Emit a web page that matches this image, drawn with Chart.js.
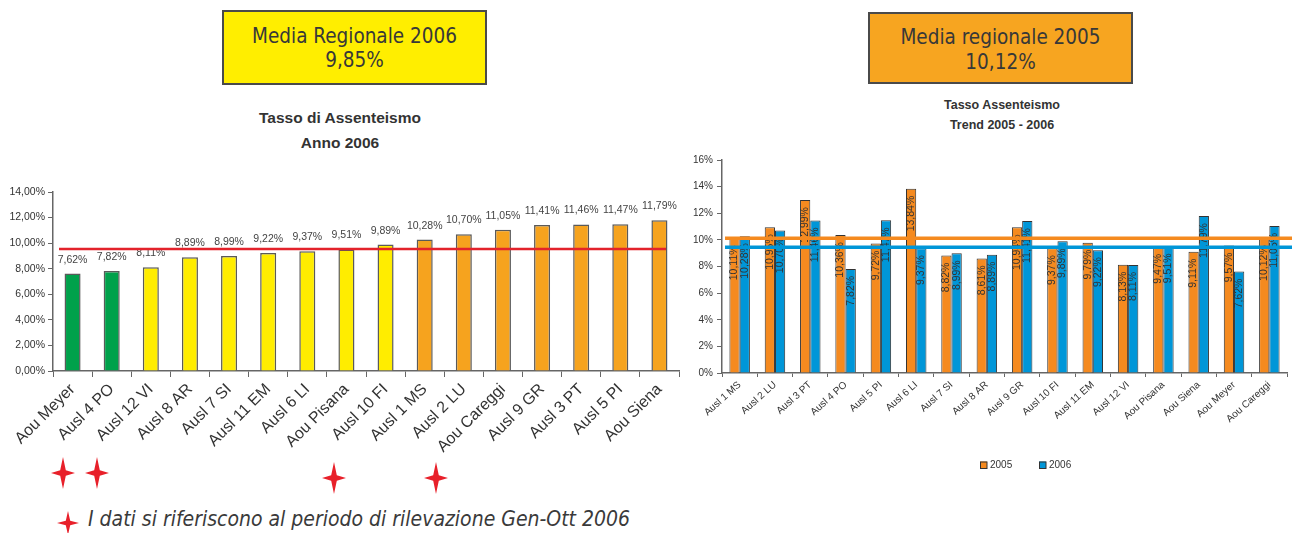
<!DOCTYPE html>
<html>
<head>
<meta charset="utf-8">
<script src="https://cdn.jsdelivr.net/npm/chart.js@4.4.1/dist/chart.umd.min.js"></script>
<style>
  html, body { margin: 0; padding: 0; background: #fff; }
  body { width: 1292px; height: 533px; position: relative; overflow: hidden;
         font-family: "Liberation Sans", Arial, sans-serif; color: #333; }
  .box { position: absolute; box-sizing: border-box; border: 2px solid #4a4a4a; text-align: center;
         font-family: "DejaVu Sans Condensed", "DejaVu Sans", sans-serif; font-stretch: condensed;
         font-size: 20.5px; color: #383838; }
  .titolo { position: absolute; text-align: center; font-weight: bold; color: #333;
            font-family: "Liberation Sans", Arial, sans-serif; }
  canvas { position: absolute; }
  .stella { position: absolute; }
  .nota { position: absolute; left: 88px; top: 507px; font-family: "DejaVu Sans Condensed", "DejaVu Sans", sans-serif;
          font-stretch: condensed; font-style: italic; font-size: 21px; color: #3a3a3a; white-space: nowrap; }
</style>
</head>
<body>

<div class="box" style="left:222px; top:10px; width:265px; height:75px; background:#FFEE00; line-height:24px; padding-top:12px;">
  Media Regionale 2006<br>9,85%
</div>
<div class="titolo" style="left:240px; top:105px; width:200px; font-size:15.5px; line-height:25px;">
  Tasso di Assenteismo<br>Anno 2006
</div>

<div class="box" style="left:868px; top:12px; width:265px; height:72px; background:#F7A520; line-height:25px; padding-top:11px;">
  Media regionale 2005<br>10,12%
</div>
<div class="titolo" style="left:902px; top:95px; width:200px; font-size:12.5px; line-height:20px;">
  Tasso Assenteismo<br>Trend 2005 - 2006
</div>

<canvas id="annuale" width="690" height="300" style="left:0; top:170px;"></canvas>
<canvas id="trend" width="602" height="335" style="left:690px; top:150px;"></canvas>

<!-- aziende con dati riferiti a Gen-Ott 2006 -->
<svg class="stella" style="left:50px; top:456px;" width="26" height="34" viewBox="-13 -17 26 34"><path d="M0,-16 L2.8,-2.8 L12,0 L2.8,2.8 L0,16 L-2.8,2.8 L-12,0 L-2.8,-2.8 Z" fill="#E8202A"/></svg>
<svg class="stella" style="left:84px; top:456px;" width="26" height="34" viewBox="-13 -17 26 34"><path d="M0,-16 L2.8,-2.8 L12,0 L2.8,2.8 L0,16 L-2.8,2.8 L-12,0 L-2.8,-2.8 Z" fill="#E8202A"/></svg>
<svg class="stella" style="left:321px; top:461px;" width="26" height="34" viewBox="-13 -17 26 34"><path d="M0,-16 L2.8,-2.8 L12,0 L2.8,2.8 L0,16 L-2.8,2.8 L-12,0 L-2.8,-2.8 Z" fill="#E8202A"/></svg>
<svg class="stella" style="left:423px; top:461px;" width="26" height="34" viewBox="-13 -17 26 34"><path d="M0,-16 L2.8,-2.8 L12,0 L2.8,2.8 L0,16 L-2.8,2.8 L-12,0 L-2.8,-2.8 Z" fill="#E8202A"/></svg>

<svg class="stella" style="left:56px; top:510px;" width="24" height="26" viewBox="-12 -13 24 26"><path d="M0,-12 L2.2,-2.2 L11,0 L2.2,2.2 L0,12 L-2.2,2.2 L-11,0 L-2.2,-2.2 Z" fill="#E8202A"/></svg>
<div class="nota">I dati si riferiscono al periodo di rilevazione Gen-Ott 2006</div>

<script>
// Tasso di assenteismo 2006, aziende ordinate per valore crescente
const aziendeAnno = ['Aou Meyer', 'Ausl 4 PO', 'Ausl 12 VI', 'Ausl 8 AR', 'Ausl 7 SI', 'Ausl 11 EM', 'Ausl 6 LI',
  'Aou Pisana', 'Ausl 10 FI', 'Ausl 1 MS', 'Ausl 2 LU', 'Aou Careggi', 'Ausl 9 GR', 'Ausl 3 PT', 'Ausl 5 PI', 'Aou Siena'];
const tasso2006 = [7.62, 7.82, 8.11, 8.89, 8.99, 9.22, 9.37, 9.51, 9.89, 10.28, 10.70, 11.05, 11.41, 11.46, 11.47, 11.79];
const fasciaAnno = ['verde', 'verde', 'giallo', 'giallo', 'giallo', 'giallo', 'giallo', 'giallo', 'giallo',
  'arancio', 'arancio', 'arancio', 'arancio', 'arancio', 'arancio', 'arancio'];
const mediaLinea2006 = [9.55];
const tickAnno = [0, 2, 4, 6, 8, 10, 12, 14];

// Confronto 2005 - 2006 per azienda
const aziendeTrend = ['Ausl 1 MS', 'Ausl 2 LU', 'Ausl 3 PT', 'Ausl 4 PO', 'Ausl 5 PI', 'Ausl 6 LI', 'Ausl 7 SI', 'Ausl 8 AR',
  'Ausl 9 GR', 'Ausl 10 FI', 'Ausl 11 EM', 'Ausl 12 VI', 'Aou Pisana', 'Aou Siena', 'Aou Meyer', 'Aou Careggi'];
const trend2005 = [10.11, 10.95, 12.99, 10.36, 9.72, 13.84, 8.82, 8.61, 10.94, 9.37, 9.79, 8.13, 9.47, 9.11, 9.57, 10.12];
const trend2006 = [10.28, 10.70, 11.46, 7.82, 11.47, 9.37, 8.99, 8.89, 11.41, 9.89, 9.22, 8.11, 9.51, 11.79, 7.62, 11.05];
const serieTrend = ['2005', '2006'];
const medieTrend = [10.12, 9.45];
const tickTrend = [0, 2, 4, 6, 8, 10, 12, 14, 16];

const coloriFascia = { verde: '#00A14B', giallo: '#FFED00', arancio: '#F6A31E' };
const coloriTrend = ['#F58A1F', '#0096D8'];

const virgola = (v, d) => v.toFixed(d).replace('.', ',');
const FONT = '"Liberation Sans", Arial, sans-serif';

// etichette sopra le barre + linea della media
const pluginAnno = {
  id: 'pluginAnno',
  afterDatasetsDraw(chart) {
    const ctx = chart.ctx;
    const meta = chart.getDatasetMeta(0);
    ctx.save();
    ctx.font = '10.5px ' + FONT;
    ctx.fillStyle = '#444';
    ctx.textAlign = 'center';
    ctx.textBaseline = 'alphabetic';
    meta.data.forEach((bar, i) => {
      ctx.fillText(virgola(tasso2006[i], 2) + '%', bar.x, bar.y - 11);
    });
    ctx.restore();
  },
  afterDraw(chart) {
    const ctx = chart.ctx, a = chart.chartArea;
    const y = chart.scales.y.getPixelForValue(mediaLinea2006[0]);
    ctx.save();
    ctx.strokeStyle = '#E3222B';
    ctx.lineWidth = 2.5;
    ctx.beginPath();
    ctx.moveTo(a.left + 6, y);
    ctx.lineTo(a.right - 13, y);
    ctx.stroke();
    ctx.restore();
  }
};

new Chart(document.getElementById('annuale'), {
  type: 'bar',
  data: {
    labels: aziendeAnno,
    datasets: [{
      data: tasso2006,
      backgroundColor: fasciaAnno.map(f => coloriFascia[f]),
      borderColor: '#5a5a5a',
      borderWidth: 1.5,
      barPercentage: 0.41,
      categoryPercentage: 1
    }]
  },
  options: {
    responsive: false,
    animation: false,
    devicePixelRatio: 1,
    layout: { padding: { top: 22, right: 11, left: 0, bottom: 0 } },
    plugins: { legend: { display: false }, tooltip: { enabled: false } },
    scales: {
      x: {
        grid: { display: true, drawOnChartArea: false, offset: true, tickLength: 6, color: '#666', lineWidth: 1 },
        border: { color: '#666', width: 1.5 },
        ticks: { minRotation: 45, maxRotation: 45, autoSkip: false, padding: 3, color: '#333',
                 font: { family: FONT, size: 16 } },
        afterFit(s) { s.height = 99; }
      },
      y: {
        min: 0, max: 14,
        afterBuildTicks(s) { s.ticks = tickAnno.map(v => ({ value: v })); },
        grid: { display: true, drawOnChartArea: false, tickLength: 5, color: '#666' },
        border: { color: '#666', width: 1.5 },
        ticks: { padding: 3, color: '#333', font: { family: FONT, size: 10.5 },
                 callback: v => virgola(v, 2) + '%' },
        afterFit(s) { s.width = 53; }
      }
    }
  },
  plugins: [pluginAnno]
});

// etichette verticali dentro le barre, linee delle medie, legenda
const pluginTrend = {
  id: 'pluginTrend',
  afterDatasetsDraw(chart) {
    const ctx = chart.ctx;
    ctx.save();
    ctx.font = '10.5px ' + FONT;
    ctx.fillStyle = '#333';
    ctx.textAlign = 'right';
    ctx.textBaseline = 'middle';
    chart.data.datasets.forEach((ds, i) => {
      chart.getDatasetMeta(i).data.forEach((bar, j) => {
        ctx.save();
        ctx.translate(bar.x, bar.y + 7);
        ctx.rotate(-Math.PI / 2);
        ctx.fillText(virgola(ds.data[j], 2) + '%', 0, 0);
        ctx.restore();
      });
    });
    ctx.restore();
  },
  afterDraw(chart) {
    const ctx = chart.ctx, a = chart.chartArea;
    ctx.save();
    medieTrend.forEach((m, i) => {
      const y = chart.scales.y.getPixelForValue(m);
      ctx.strokeStyle = coloriTrend[i];
      ctx.lineWidth = 3.5;
      ctx.beginPath();
      ctx.moveTo(a.left + 3, y);
      ctx.lineTo(chart.width, y);
      ctx.stroke();
    });
    // legenda
    ctx.font = '10px ' + FONT;
    ctx.textAlign = 'left';
    ctx.textBaseline = 'middle';
    const ly = 315;
    chart.data.datasets.forEach((ds, i) => {
      const lx = 290 + i * 59;
      ctx.fillStyle = ds.backgroundColor;
      ctx.fillRect(lx, ly - 3.5, 7, 7);
      ctx.strokeStyle = '#333';
      ctx.lineWidth = 1;
      ctx.strokeRect(lx + 0.5, ly - 3, 6.5, 6.5);
      ctx.fillStyle = '#333';
      ctx.fillText(ds.label, lx + 10, ly + 0.5);
    });
    ctx.restore();
  }
};

new Chart(document.getElementById('trend'), {
  type: 'bar',
  data: {
    labels: aziendeTrend,
    datasets: [
      { label: serieTrend[0], data: trend2005, backgroundColor: coloriTrend[0], borderColor: '#333', borderWidth: 1 },
      { label: serieTrend[1], data: trend2006, backgroundColor: coloriTrend[1], borderColor: '#333', borderWidth: 1 }
    ]
  },
  options: {
    responsive: false,
    animation: false,
    devicePixelRatio: 1,
    datasets: { bar: { categoryPercentage: 0.58, barPercentage: 1 } },
    layout: { padding: { top: 10, right: 5, left: 0, bottom: 0 } },
    plugins: { legend: { display: false }, tooltip: { enabled: false } },
    scales: {
      x: {
        grid: { display: true, drawOnChartArea: false, offset: true, tickLength: 4, color: '#666' },
        border: { color: '#666', width: 1.5 },
        ticks: { minRotation: 42, maxRotation: 42, autoSkip: false, padding: 2, color: '#333',
                 font: { family: FONT, size: 10 } },
        afterFit(s) { s.height = 112; }
      },
      y: {
        min: 0, max: 16,
        afterBuildTicks(s) { s.ticks = tickTrend.map(v => ({ value: v })); },
        grid: { display: true, drawOnChartArea: false, tickLength: 5, color: '#666' },
        border: { color: '#666', width: 1.5 },
        ticks: { padding: 4, color: '#333', font: { family: FONT, size: 10 }, callback: v => v + '%' },
        afterFit(s) { s.width = 32; }
      }
    }
  },
  plugins: [pluginTrend]
});
</script>
</body>
</html>
